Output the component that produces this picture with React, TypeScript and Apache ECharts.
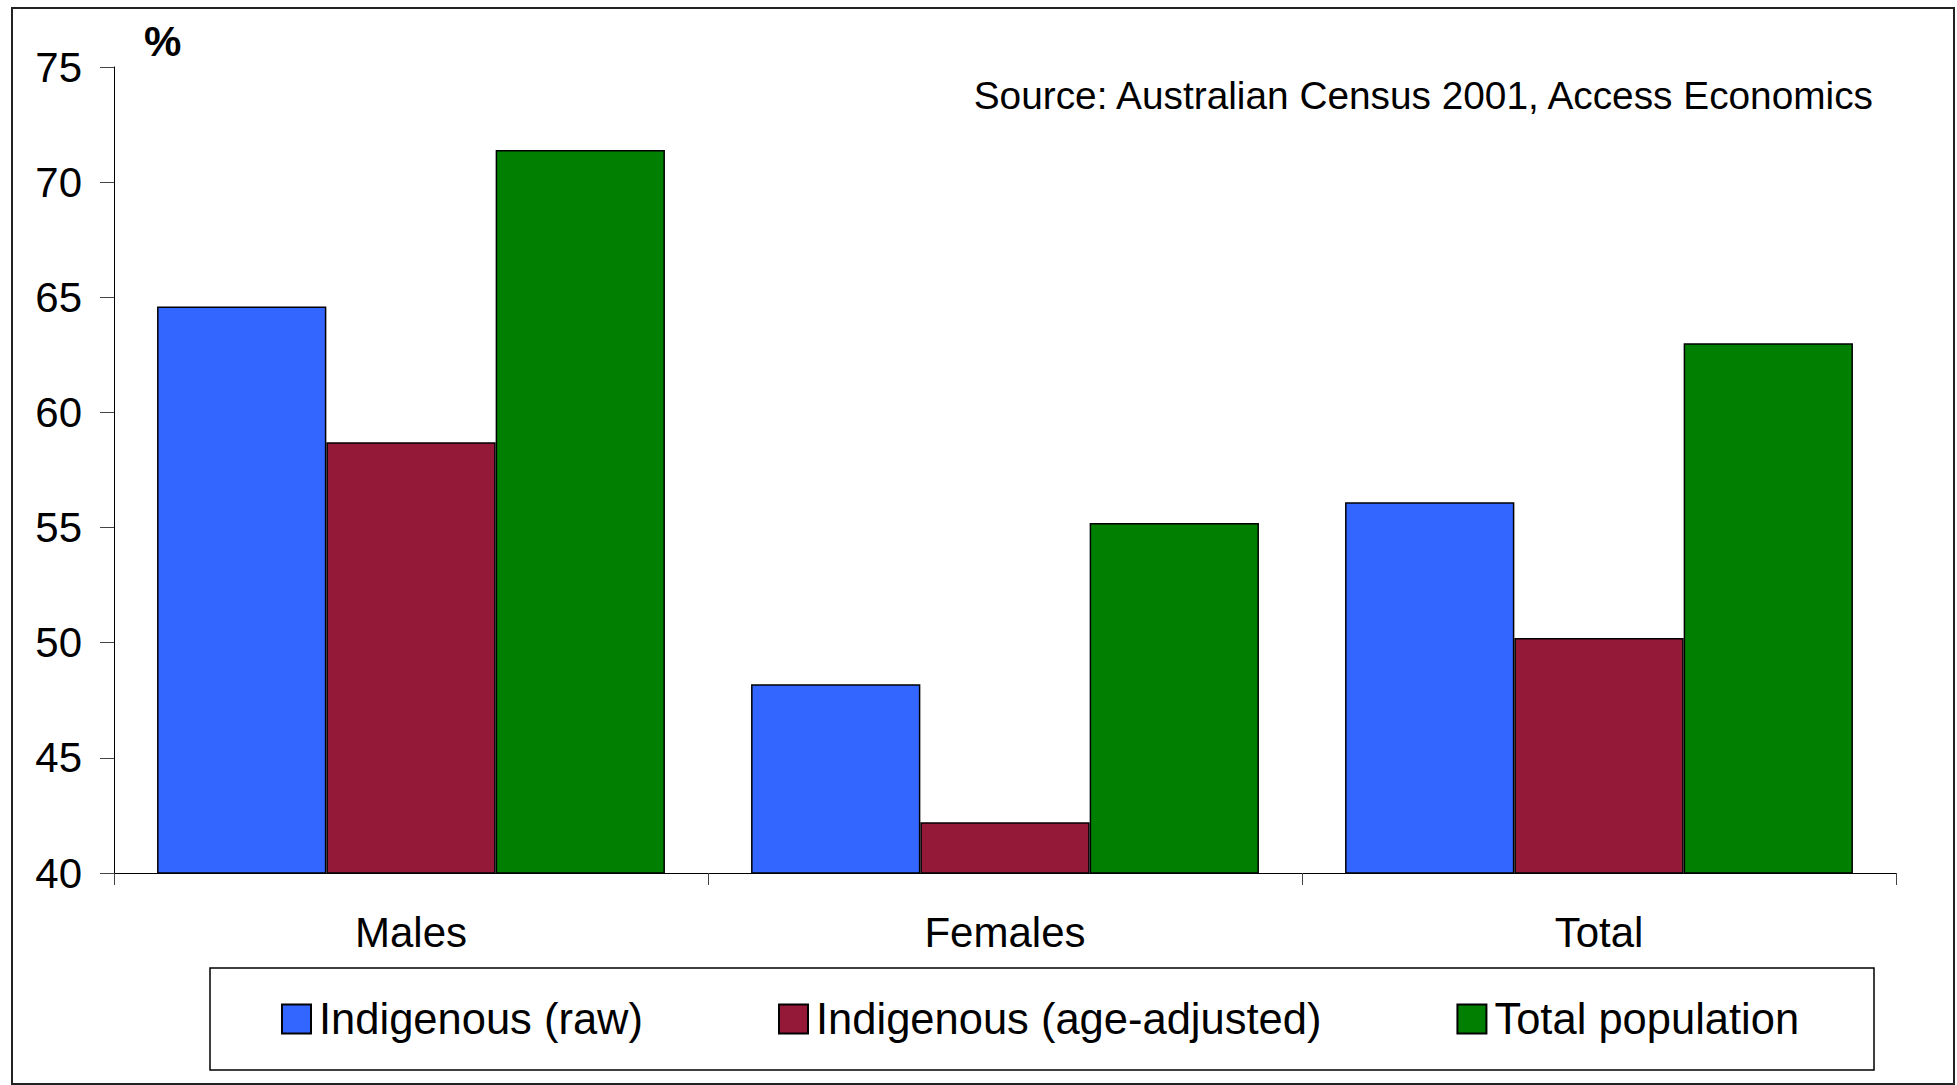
import React, { useEffect, useRef } from "react";
import * as echarts from "echarts";

const categories = ["Males", "Females", "Total"];
const seriesNames = ["Indigenous (raw)", "Indigenous (age-adjusted)", "Total population"];
const indigenousRaw = [64.6, 48.2, 56.1];
const indigenousAgeAdjusted = [58.7, 42.2, 50.2];
const totalPopulation = [71.4, 55.2, 63.0];
const seriesColors = ["#3366FF", "#941938", "#007F00"];
const yMin = 40;
const yMax = 75;
const yInterval = 5;
const sourceText = "Source: Australian Census 2001, Access Economics";
const unitText = "%";

const FONT = "'Liberation Sans', Arial, sans-serif";

export default function App() {
  const ref = useRef<HTMLDivElement>(null);
  useEffect(() => {
    if (!ref.current) return;
    const chart = echarts.init(ref.current, null, { renderer: "svg" });
    const values = [indigenousRaw, indigenousAgeAdjusted, totalPopulation];
    chart.setOption({
      animation: false,
      backgroundColor: "#ffffff",
      textStyle: { fontFamily: FONT },
      grid: { left: 114, right: 61, top: 67, bottom: 212, containLabel: false },
      xAxis: {
        type: "category",
        data: categories,
        axisLine: { show: true, lineStyle: { color: "#000", width: 1 } },
        axisTick: { show: true, length: 12, lineStyle: { color: "#444", width: 1 } },
        axisLabel: { fontSize: 42, color: "#000", margin: 38, fontFamily: FONT },
        splitLine: { show: false },
      },
      yAxis: {
        type: "value",
        min: yMin,
        max: yMax,
        interval: yInterval,
        axisLine: { show: true, lineStyle: { color: "#000", width: 1 } },
        axisTick: { show: true, length: 14, lineStyle: { color: "#444", width: 1 } },
        axisLabel: { fontSize: 42, color: "#000", margin: 32, fontFamily: FONT },
        splitLine: { show: false },
      },
      legend: {
        left: 276,
        top: 992,
        itemWidth: 29,
        itemHeight: 29,
        itemGap: 135,
        icon: "rect",
        textStyle: { fontSize: 43.5, color: "#000", fontFamily: FONT, padding: [0, 0, 0, 3] },
        data: seriesNames,
      },
      series: seriesNames.map((name, i) => ({
        name,
        type: "bar",
        data: values[i],
        barGap: "0%",
        barCategoryGap: "14.5%",
        itemStyle: { color: seriesColors[i], borderColor: "#000", borderWidth: 1.5 },
      })),
      graphic: [
        {
          type: "rect",
          shape: { x: 12, y: 8, width: 1942, height: 1076 },
          style: { fill: "none", stroke: "#222", lineWidth: 2 },
          silent: true,
        },
        {
          type: "rect",
          shape: { x: 210, y: 968, width: 1664, height: 102 },
          style: { fill: "none", stroke: "#000", lineWidth: 1.5 },
          silent: true,
        },
        {
          type: "text",
          x: 1873,
          y: 95,
          style: {
            text: sourceText,
            fontSize: 38.8,
            fontFamily: FONT,
            fill: "#000",
            align: "right",
            verticalAlign: "middle",
          },
        },
        {
          type: "text",
          x: 144,
          y: 41,
          style: {
            text: unitText,
            fontSize: 42,
            fontWeight: "bold",
            fontFamily: FONT,
            fill: "#000",
            align: "left",
            verticalAlign: "middle",
          },
        },
      ],
    });
    return () => chart.dispose();
  }, []);
  return (
    <div
      ref={ref}
      style={{ position: "absolute", left: 0, top: 0, width: 1957, height: 1085 }}
    />
  );
}
